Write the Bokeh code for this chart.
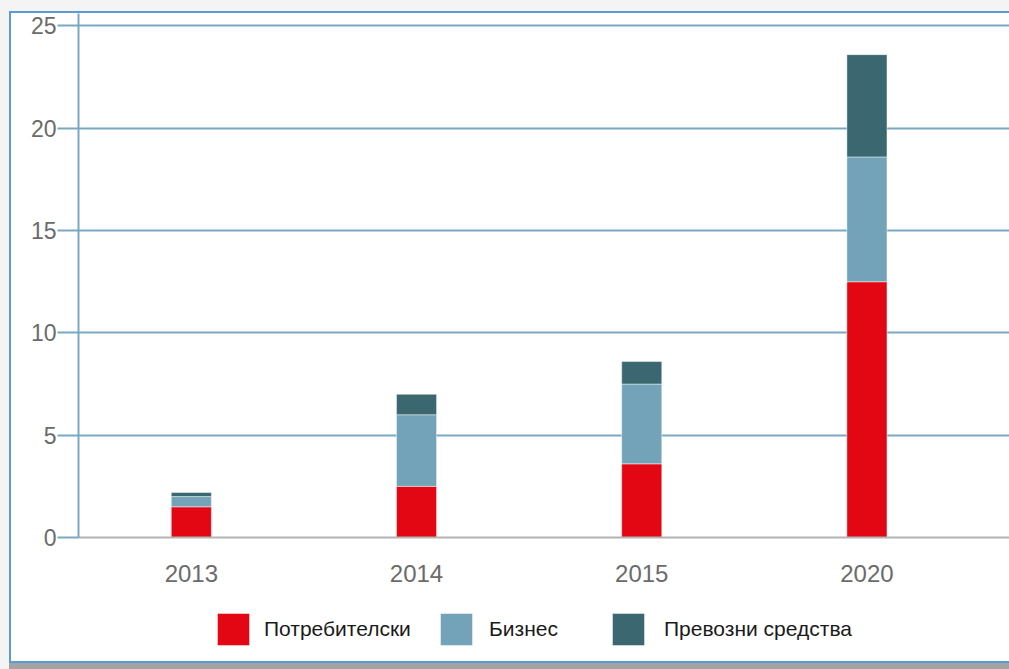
from bokeh.plotting import figure
from bokeh.layouts import column
from bokeh.models import (Legend, LegendItem, FixedTicker, Range1d,
                          ColumnDataSource, GlobalInlineStyleSheet)
from bokeh.embed import file_html
from bokeh.resources import INLINE

# ---- data ----
years = ["2013", "2014", "2015", "2020"]
consumer = [1.5, 2.5, 3.6, 12.5]     # Потребителски
business = [0.5, 3.5, 3.9, 6.1]      # Бизнес
vehicles = [0.2, 1.0, 1.1, 5.0]      # Превозни средства
series = ["Потребителски", "Бизнес", "Превозни средства"]
colors = ["#e30613", "#72a3b8", "#3b6870"]
y_ticks = [0, 5, 10, 15, 20, 25]

FONT = "Liberation Sans"
GRID = "#7aa7c1"

xs = list(range(len(years)))
source = ColumnDataSource(dict(x=xs, c=consumer, b=business, v=vehicles))
stack_cols = ["c", "b", "v"]

# ---------------- main chart ----------------
p = figure(width=998, height=580, output_backend="svg", toolbar_location=None,
           x_range=Range1d(-0.501, 3.633), y_range=Range1d(0, 25.61),
           min_border_left=67, min_border_right=0, min_border_top=0,
           min_border_bottom=56)
p.outline_line_color = None
p.border_fill_color = "white"
p.background_fill_color = "white"

# page / card styling (applied to the document, outside the plot's own layout)
css = """
html, body { background: #f4f4f4; margin: 0; padding: 0; }
body > div:first-of-type {
  display: block !important; box-sizing: content-box;
  width: 998px; height: 648px; margin: 11px 0 0 9px; background: white;
  border-left: 2px solid #5b9bd5; border-top: 2px solid #5b9bd5;
  border-bottom: 2px solid #5b9bd5; box-shadow: 0px 6px 0px 0px #a3a3a3;
}
"""
p.stylesheets = [GlobalInlineStyleSheet(css=css)]

p.vbar_stack(stack_cols, x="x", width=0.178, color=colors, source=source,
             line_color="white", line_alpha=0.45, line_width=1)

# y axis
p.yaxis.ticker = FixedTicker(ticks=y_ticks)
p.yaxis.axis_line_color = GRID
p.yaxis.axis_line_width = 2
p.yaxis.major_tick_out = 21
p.yaxis.major_tick_in = 0
p.yaxis.major_tick_line_color = GRID
p.yaxis.major_tick_line_width = 2
p.yaxis.minor_tick_line_color = None
p.yaxis.major_label_standoff = 1
p.yaxis.major_label_text_font = FONT
p.yaxis.major_label_text_font_size = "23px"
p.yaxis.major_label_text_color = "#6b6b6b"

# x axis
p.xaxis.ticker = FixedTicker(ticks=xs)
p.xaxis.major_label_overrides = {i: y for i, y in enumerate(years)}
p.xaxis.axis_line_color = "#b3b3b3"
p.xaxis.axis_line_width = 2
p.xaxis.major_tick_line_color = None
p.xaxis.minor_tick_line_color = None
p.xaxis.major_label_standoff = 21
p.xaxis.major_label_text_font = FONT
p.xaxis.major_label_text_font_size = "24px"
p.xaxis.major_label_text_color = "#6b6b6b"

p.ygrid.grid_line_color = GRID
p.ygrid.grid_line_width = 2
p.xgrid.grid_line_color = None

# ---------------- legend strip ----------------
pl = figure(width=998, height=68, output_backend="svg", toolbar_location=None,
            x_range=Range1d(1000, 1001), y_range=Range1d(1000, 1001),
            x_axis_type=None, y_axis_type=None,
            min_border_left=0, min_border_right=0, min_border_top=0,
            min_border_bottom=0)
pl.outline_line_color = None
pl.border_fill_color = "white"
pl.background_fill_color = "white"
pl.xgrid.visible = False
pl.ygrid.visible = False
# same stacked bars (outside this strip's visible range) feed the legend swatches
leg_renderers = pl.vbar_stack(stack_cols, x="x", width=0.178, color=colors,
                              source=source, line_color="white",
                              line_alpha=0.45, line_width=1)

legend_x = [135, 358, 530]
standoffs = [11, 13, 16]
for r, label, lx, so in zip(leg_renderers, series, legend_x, standoffs):
    lg = Legend(items=[LegendItem(label=label, renderers=[r])],
                location=(lx, 6.5), orientation="horizontal",
                padding=0, margin=0, border_line_color=None,
                background_fill_alpha=0, glyph_width=40, glyph_height=40,
                label_height=52, label_standoff=so,
                label_text_baseline="top",
                label_text_font=FONT, label_text_font_size="21px",
                label_text_color="#1a1a1a")
    pl.add_layout(lg, "center")

layout = column(p, pl, spacing=0)
open("out.html", "w").write(file_html(layout, INLINE))
